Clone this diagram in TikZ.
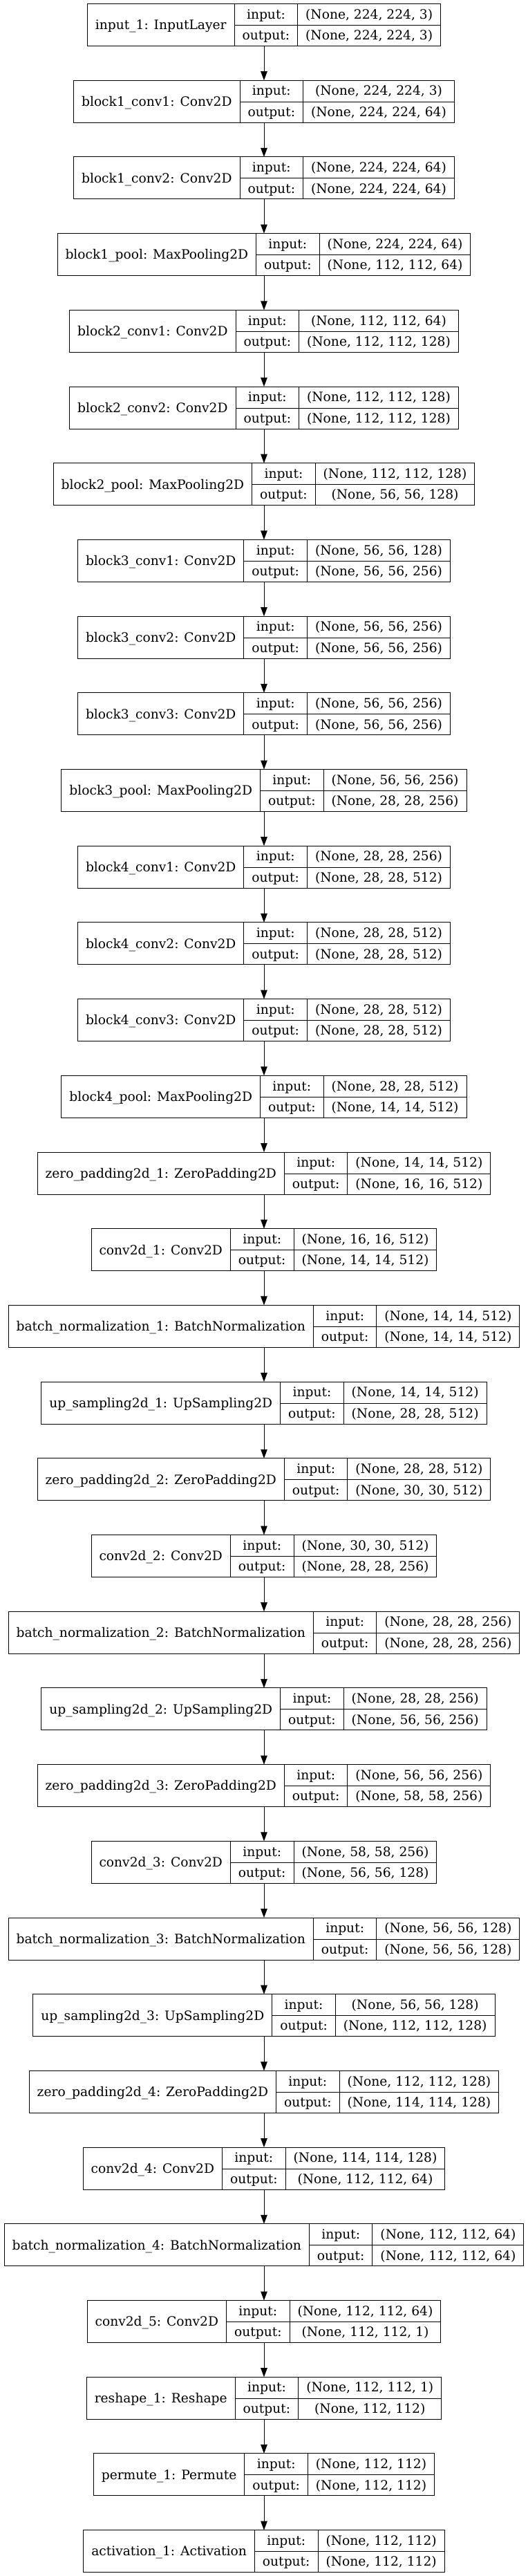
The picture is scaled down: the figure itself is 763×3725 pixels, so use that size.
\documentclass[tikz,border=0pt]{standalone}
\usepackage{fontspec}
\setmainfont{DejaVu Serif}
\usetikzlibrary{positioning,arrows.meta}

\setlength{\arrayrulewidth}{1pt}
\setlength{\tabcolsep}{11.5pt}
\newcommand{\rowstrut}{\rule[-8.8pt]{0pt}{30.5pt}}
% one keras record: name | input/output | shapes
\newcommand{\rec}[3]{%
  \begin{tabular}{c|c|c}
    \smash{\raisebox{-15.6pt}{#1}} & input: & #2\rowstrut \\ \cline{2-3}
    & output: & #3\rowstrut \\
  \end{tabular}}

\tikzset{
  layer/.style={draw, line width=1pt, inner sep=0pt, outer sep=0pt,
    font=\fontsize{18.67}{22.4}\selectfont},
  flow/.style={-{Triangle[length=13pt,width=9.5pt]}, line width=1pt}
}

\begin{document}
\begin{tikzpicture}[x=1pt, y=1pt, node distance=49.7pt]
    \useasboundingbox (0,0) rectangle (763,-3725);

    \node[layer, anchor=north] (in1) at (382,-5.5)
        {\rec{input\_1: InputLayer}{(None, 224, 224, 3)}{(None, 224, 224, 3)}};
    \node[layer, below=of in1] (b1c1)
        {\rec{block1\_conv1: Conv2D}{(None, 224, 224, 3)}{(None, 224, 224, 64)}};
    \node[layer, below=of b1c1] (b1c2)
        {\rec{block1\_conv2: Conv2D}{(None, 224, 224, 64)}{(None, 224, 224, 64)}};
    \node[layer, below=of b1c2] (b1p)
        {\rec{block1\_pool: MaxPooling2D}{(None, 224, 224, 64)}{(None, 112, 112, 64)}};
    \node[layer, below=of b1p] (b2c1)
        {\rec{block2\_conv1: Conv2D}{(None, 112, 112, 64)}{(None, 112, 112, 128)}};
    \node[layer, below=of b2c1] (b2c2)
        {\rec{block2\_conv2: Conv2D}{(None, 112, 112, 128)}{(None, 112, 112, 128)}};
    \node[layer, below=of b2c2] (b2p)
        {\rec{block2\_pool: MaxPooling2D}{(None, 112, 112, 128)}{(None, 56, 56, 128)}};
    \node[layer, below=of b2p] (b3c1)
        {\rec{block3\_conv1: Conv2D}{(None, 56, 56, 128)}{(None, 56, 56, 256)}};
    \node[layer, below=of b3c1] (b3c2)
        {\rec{block3\_conv2: Conv2D}{(None, 56, 56, 256)}{(None, 56, 56, 256)}};
    \node[layer, below=of b3c2] (b3c3)
        {\rec{block3\_conv3: Conv2D}{(None, 56, 56, 256)}{(None, 56, 56, 256)}};
    \node[layer, below=of b3c3] (b3p)
        {\rec{block3\_pool: MaxPooling2D}{(None, 56, 56, 256)}{(None, 28, 28, 256)}};
    \node[layer, below=of b3p] (b4c1)
        {\rec{block4\_conv1: Conv2D}{(None, 28, 28, 256)}{(None, 28, 28, 512)}};
    \node[layer, below=of b4c1] (b4c2)
        {\rec{block4\_conv2: Conv2D}{(None, 28, 28, 512)}{(None, 28, 28, 512)}};
    \node[layer, below=of b4c2] (b4c3)
        {\rec{block4\_conv3: Conv2D}{(None, 28, 28, 512)}{(None, 28, 28, 512)}};
    \node[layer, below=of b4c3] (b4p)
        {\rec{block4\_pool: MaxPooling2D}{(None, 28, 28, 512)}{(None, 14, 14, 512)}};

    % decoder
    \node[layer, below=of b4p] (zp1)
        {\rec{zero\_padding2d\_1: ZeroPadding2D}{(None, 14, 14, 512)}{(None, 16, 16, 512)}};
    \node[layer, below=of zp1] (cv1)
        {\rec{conv2d\_1: Conv2D}{(None, 16, 16, 512)}{(None, 14, 14, 512)}};
    \node[layer, below=of cv1] (bn1)
        {\rec{batch\_normalization\_1: BatchNormalization}{(None, 14, 14, 512)}{(None, 14, 14, 512)}};
    \node[layer, below=of bn1] (up1)
        {\rec{up\_sampling2d\_1: UpSampling2D}{(None, 14, 14, 512)}{(None, 28, 28, 512)}};
    \node[layer, below=of up1] (zp2)
        {\rec{zero\_padding2d\_2: ZeroPadding2D}{(None, 28, 28, 512)}{(None, 30, 30, 512)}};
    \node[layer, below=of zp2] (cv2)
        {\rec{conv2d\_2: Conv2D}{(None, 30, 30, 512)}{(None, 28, 28, 256)}};
    \node[layer, below=of cv2] (bn2)
        {\rec{batch\_normalization\_2: BatchNormalization}{(None, 28, 28, 256)}{(None, 28, 28, 256)}};
    \node[layer, below=of bn2] (up2)
        {\rec{up\_sampling2d\_2: UpSampling2D}{(None, 28, 28, 256)}{(None, 56, 56, 256)}};
    \node[layer, below=of up2] (zp3)
        {\rec{zero\_padding2d\_3: ZeroPadding2D}{(None, 56, 56, 256)}{(None, 58, 58, 256)}};
    \node[layer, below=of zp3] (cv3)
        {\rec{conv2d\_3: Conv2D}{(None, 58, 58, 256)}{(None, 56, 56, 128)}};
    \node[layer, below=of cv3] (bn3)
        {\rec{batch\_normalization\_3: BatchNormalization}{(None, 56, 56, 128)}{(None, 56, 56, 128)}};
    \node[layer, below=of bn3] (up3)
        {\rec{up\_sampling2d\_3: UpSampling2D}{(None, 56, 56, 128)}{(None, 112, 112, 128)}};
    \node[layer, below=of up3] (zp4)
        {\rec{zero\_padding2d\_4: ZeroPadding2D}{(None, 112, 112, 128)}{(None, 114, 114, 128)}};
    \node[layer, below=of zp4] (cv4)
        {\rec{conv2d\_4: Conv2D}{(None, 114, 114, 128)}{(None, 112, 112, 64)}};
    \node[layer, below=of cv4] (bn4)
        {\rec{batch\_normalization\_4: BatchNormalization}{(None, 112, 112, 64)}{(None, 112, 112, 64)}};
    \node[layer, below=of bn4] (cv5)
        {\rec{conv2d\_5: Conv2D}{(None, 112, 112, 64)}{(None, 112, 112, 1)}};
    \node[layer, below=of cv5] (resh)
        {\rec{reshape\_1: Reshape}{(None, 112, 112, 1)}{(None, 112, 112)}};
    \node[layer, below=of resh] (perm)
        {\rec{permute\_1: Permute}{(None, 112, 112)}{(None, 112, 112)}};
    \node[layer, below=of perm] (act)
        {\rec{activation\_1: Activation}{(None, 112, 112)}{(None, 112, 112)}};

    \foreach \a/\b in {in1/b1c1, b1c1/b1c2, b1c2/b1p, b1p/b2c1, b2c1/b2c2, b2c2/b2p,
        b2p/b3c1, b3c1/b3c2, b3c2/b3c3, b3c3/b3p, b3p/b4c1, b4c1/b4c2, b4c2/b4c3,
        b4c3/b4p, b4p/zp1, zp1/cv1, cv1/bn1, bn1/up1, up1/zp2, zp2/cv2, cv2/bn2,
        bn2/up2, up2/zp3, zp3/cv3, cv3/bn3, bn3/up3, up3/zp4, zp4/cv4, cv4/bn4,
        bn4/cv5, cv5/resh, resh/perm, perm/act}{
        \draw[flow] (\a) -- (\b);
    }
\end{tikzpicture}
\end{document}
